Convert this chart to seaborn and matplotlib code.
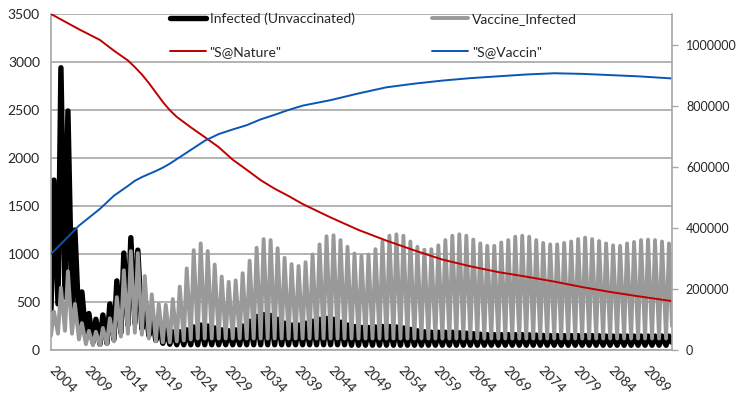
import numpy as np
import pandas as pd
import matplotlib
matplotlib.use("Agg")
import matplotlib.pyplot as plt
from matplotlib.ticker import MultipleLocator
import seaborn as sns

# ---------------- data ----------------
years = list(range(2004, 2093))

infected_peak = [1770, 2940, 2490, 1250, 605, 380, 320, 365, 480, 720,
                 1010, 1170, 1040, 560, 380, 270, 210, 190, 190, 210,
                 240, 260, 250, 230, 210, 200, 210, 250, 300, 350,
                 370, 360, 320, 280, 260, 260, 280, 300, 320, 330,
                 320, 290, 260, 245, 235, 235, 240, 245, 245, 240,
                 230, 215, 200, 190, 185, 185, 185, 185, 180, 175,
                 170, 165, 160, 160, 160, 160, 160, 160, 158, 155,
                 152, 150, 150, 150, 150, 150, 150, 150, 148, 145,
                 145, 145, 145, 145, 145, 145, 145, 145, 145]
infected_trough = [420, 480, 550, 450, 260, 130, 80, 60, 70, 110,
                   180, 260, 280, 220, 150, 100, 70, 60, 55, 55,
                   55, 55, 55, 55, 55, 55, 55, 55, 55, 55,
                   55, 55, 55, 55, 55, 55, 55, 55, 55, 55,
                   55, 55, 55, 50, 50, 50, 50, 50, 50, 50,
                   50, 50, 50, 50, 50, 50, 50, 50, 50, 50,
                   50, 50, 50, 50, 50, 50, 50, 50, 50, 50,
                   50, 50, 50, 50, 50, 50, 50, 50, 50, 50,
                   50, 50, 50, 50, 50, 50, 50, 50, 50]
vacc_peak = [400, 650, 820, 480, 280, 200, 190, 230, 330, 550,
             830, 1030, 1010, 770, 580, 480, 470, 530, 660, 850,
             1040, 1110, 1030, 890, 765, 710, 725, 800, 930, 1065,
             1155, 1145, 1060, 960, 895, 875, 915, 995, 1100, 1185,
             1195, 1145, 1075, 1005, 980, 995, 1050, 1130, 1190, 1205,
             1190, 1130, 1075, 1045, 1050, 1090, 1145, 1190, 1205, 1190,
             1150, 1110, 1085, 1085, 1120, 1145, 1180, 1190, 1180, 1145,
             1115, 1100, 1100, 1115, 1130, 1155, 1170, 1155, 1135, 1110,
             1090, 1085, 1110, 1125, 1145, 1150, 1145, 1130, 1110]
vacc_trough = [150, 170, 200, 170, 110, 60, 50, 50, 60, 90,
               140, 170, 180, 160, 120, 90, 80, 80, 90, 100,
               110, 120, 120, 120, 120, 120, 120, 120, 120, 120,
               120, 120, 120, 120, 120, 120, 120, 120, 120, 120,
               120, 120, 120, 120, 120, 120, 120, 120, 120, 120,
               120, 120, 120, 120, 120, 120, 120, 120, 120, 120,
               120, 120, 120, 120, 120, 120, 120, 120, 120, 120,
               120, 120, 120, 120, 120, 120, 120, 120, 120, 120,
               120, 120, 120, 120, 120, 120, 120, 120, 120]
end_year = 2092.85
infected_end = 80
vacc_end = 250

s_years = [2004, 2008, 2011, 2013, 2015, 2016, 2017, 2018, 2019, 2020,
           2021, 2022, 2024, 2026, 2028, 2030, 2032, 2034, 2036, 2038,
           2040, 2044, 2048, 2052, 2056, 2060, 2064, 2068, 2072, 2076,
           2080, 2084, 2088, 2092.85]
s_nature = [1100000, 1050000, 1015000, 980000, 948000, 926000, 902000, 874000, 843000, 812000,
            785000, 763000, 729000, 697000, 664000, 623000, 590000, 556000, 528000, 504000,
            478000, 434000, 393000, 358000, 326000, 296000, 274000, 255000, 240000, 224000,
            206000, 190000, 176000, 160000]
s_vaccin = [314000, 407000, 462000, 505000, 537000, 554000, 566000, 576000, 586000, 597000,
            610000, 625000, 655000, 685000, 707000, 722000, 736000, 755000, 770000, 786000,
            800000, 818000, 840000, 860000, 872000, 882000, 890000, 896000, 902000, 906000,
            904000, 900000, 896000, 889000]

tick_years = list(range(2004, 2090, 5))
left_ticks = [0, 500, 1000, 1500, 2000, 2500, 3000, 3500]
right_ticks = [0, 200000, 400000, 600000, 800000, 1000000]

labels = ['Infected (Unvaccinated)', 'Vaccine_Infected', '"S@Nature"', '"S@Vaccin"']

# ---------------- build tables ----------------
PEAK_OFFSET = 0.42
def osc_frame(troughs, peaks, end_val):
    xs, vs = [], []
    for y, t, p in zip(years, troughs, peaks):
        xs += [y, y + PEAK_OFFSET]
        vs += [t, p]
    xs.append(end_year)
    vs.append(end_val)
    return pd.DataFrame({'year': xs, 'value': vs})

df_inf = osc_frame(infected_trough, infected_peak, infected_end)
df_vac = osc_frame(vacc_trough, vacc_peak, vacc_end)
df_s = pd.DataFrame({'year': s_years, 'nature': s_nature, 'vaccin': s_vaccin})

# ---------------- style ----------------
sns.set_style("white")
plt.rcParams['font.family'] = ['Lato', 'DejaVu Sans']
FS = 10
FS_R = 9
GRID = '#a6a6a6'

fig = plt.figure(figsize=(7.43, 3.97), dpi=100)
ax = fig.add_axes([51/743, 47/397, 621/743, 336/397])
ax2 = ax.twinx()

sns.lineplot(data=df_inf, x='year', y='value', ax=ax, color='#000000',
             linewidth=3.9, estimator=None, sort=False, label=labels[0], legend=False)
sns.lineplot(data=df_vac, x='year', y='value', ax=ax, color='#999999',
             linewidth=2.8, estimator=None, sort=False, label=labels[1], legend=False)
sns.lineplot(data=df_s, x='year', y='nature', ax=ax2, color='#c00000',
             linewidth=1.4, estimator=None, sort=False, label=labels[2], legend=False)
sns.lineplot(data=df_s, x='year', y='vaccin', ax=ax2, color='#0a56b4',
             linewidth=1.4, estimator=None, sort=False, label=labels[3], legend=False)

ax.set_xlim(2004, end_year)
ax.set_ylim(0, 3500)
ax2.set_ylim(0, 1100000)

ax.set_xlabel('')
ax.set_ylabel('')
ax2.set_ylabel('')

ax.set_yticks(left_ticks)
ax.set_yticklabels([str(v) for v in left_ticks], fontsize=FS)
ax.tick_params(axis='y', length=0, pad=8)
ax.yaxis.grid(True, color=GRID, linewidth=1.2)
ax.xaxis.grid(False)
ax.set_axisbelow(True)

ax.set_xticks(tick_years)
ax.xaxis.set_minor_locator(MultipleLocator(2.5))
ax.set_xticklabels([str(y) for y in tick_years], fontsize=FS, rotation=-45,
                   ha='left', va='center', rotation_mode='anchor')
ax.tick_params(axis='x', which='both', length=4, color=GRID, width=1, pad=9, direction='out')

ax2.set_yticks(right_ticks)
ax2.set_yticklabels([str(v) for v in right_ticks], fontsize=FS_R)
ax2.tick_params(axis='y', length=4, color=GRID, width=1, pad=6, direction='out')

for a in (ax, ax2):
    for s in a.spines.values():
        s.set_visible(False)
for side in ('left', 'bottom'):
    ax.spines[side].set_visible(True)
    ax.spines[side].set_color(GRID)
    ax.spines[side].set_linewidth(1.2)
ax2.spines['right'].set_visible(True)
ax2.spines['right'].set_color(GRID)
ax2.spines['right'].set_linewidth(1.2)

h1, l1 = ax.get_legend_handles_labels()
h2, l2 = ax2.get_legend_handles_labels()
handles = h1 + h2
leg = ax2.legend([handles[i] for i in [0, 2, 1, 3]], [labels[i] for i in [0, 2, 1, 3]],
                 ncol=2, loc='upper left', bbox_to_anchor=((170-51)/621, 1.005),
                 frameon=False, fontsize=FS, handlelength=2.6, handletextpad=0.25,
                 columnspacing=5.6, labelspacing=1.5, borderpad=0, borderaxespad=0)

fig.savefig('out.png', dpi=100)
